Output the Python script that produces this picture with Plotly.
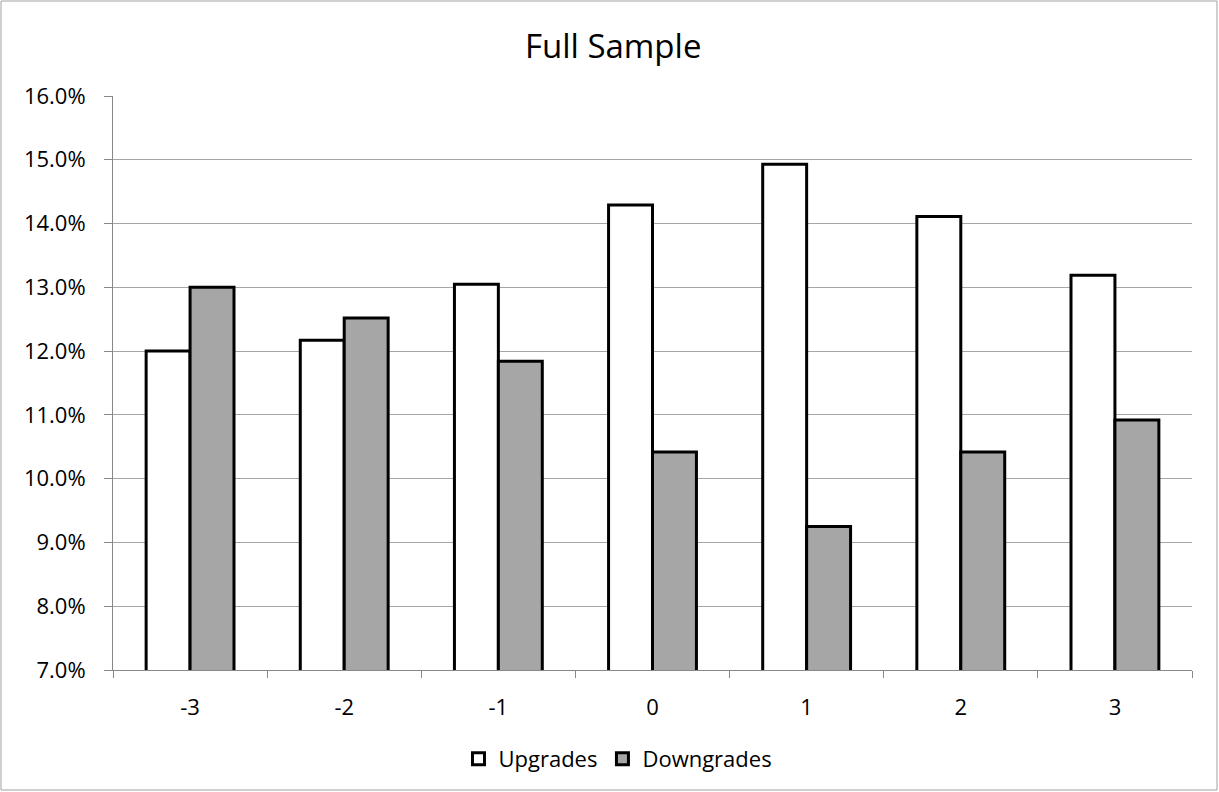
import plotly.graph_objects as go

categories = ["-3", "-2", "-1", "0", "1", "2", "3"]
upgrades = [0.1200, 0.1217, 0.1305, 0.1429, 0.1493, 0.1411, 0.1319]
downgrades = [0.1300, 0.1252, 0.1184, 0.1042, 0.0925, 0.1042, 0.1092]

FONT = "Open Sans"

fig = go.Figure()
fig.add_trace(go.Bar(x=categories, y=upgrades, name="Upgrades",
                     marker=dict(color="white", line=dict(color="black", width=3))))
fig.add_trace(go.Bar(x=categories, y=downgrades, name="Downgrades",
                     marker=dict(color="#A6A6A6", line=dict(color="black", width=3))))

fig.update_layout(
    width=1219, height=792,
    margin=dict(l=113, r=27, t=96, b=122),
    paper_bgcolor="white", plot_bgcolor="white",
    barmode="group", bargap=0.43, bargroupgap=0,
    font=dict(family=FONT, size=22, color="black"),
    title=dict(text="Full Sample", x=0.503, xref="container", xanchor="center",
               y=1 - 46 / 792, yanchor="middle",
               font=dict(family=FONT, size=33, color="black")),
    legend=dict(orientation="h", x=0.468, xanchor="center", y=-0.155, yanchor="middle",
                font=dict(family=FONT, size=22), itemwidth=30, traceorder="normal",
                bgcolor="rgba(0,0,0,0)"),
    showlegend=True,
)
fig.update_yaxes(range=[0.07, 0.16], dtick=0.01, tickformat=".1%",
                 tickfont=dict(family=FONT, size=22),
                 showgrid=True, gridcolor="#A6A6A6", gridwidth=1,
                 showline=True, linecolor="#888888", linewidth=1,
                 ticks="outside", ticklen=8, tickcolor="#888888",
                 ticklabelstandoff=14, zeroline=False)
fig.update_xaxes(type="category", tickson="boundaries",
                 tickfont=dict(family=FONT, size=22),
                 showgrid=False, showline=True, linecolor="#888888", linewidth=1,
                 ticks="outside", ticklen=7, tickcolor="#888888",
                 ticklabelstandoff=18)

# outer chart border
fig.add_shape(type="rect", xref="paper", yref="paper",
              x0=(1 - 113) / 1079, x1=(1217 - 113) / 1079,
              y0=(670 - 790) / 574, y1=(670 - 1) / 574,
              line=dict(color="#A0A0A0", width=1), fillcolor="rgba(0,0,0,0)", layer="below")

fig.write_html("out.html")
